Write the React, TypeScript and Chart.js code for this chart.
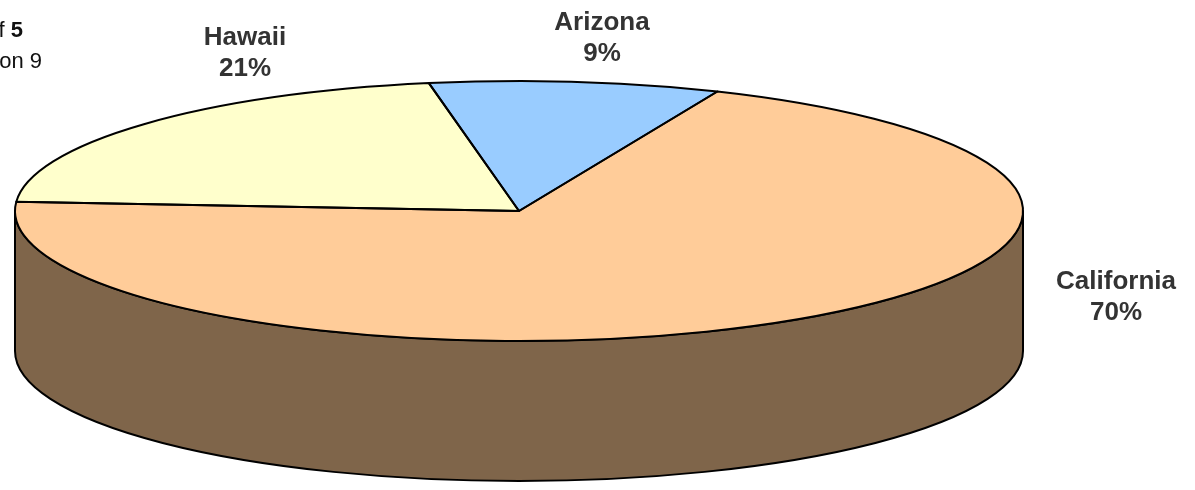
import React, { useEffect, useRef } from "react";
import { Chart, PieController, ArcElement } from "chart.js";

Chart.register(PieController, ArcElement);

// ---- data ----
const categories = ["Arizona", "California", "Hawaii"];
const values = [9.3, 69.7, 21.0];
const topColors = ["#99CCFF", "#FFCC99", "#FFFFCC"];
const sideColors = ["#4D6680", "#7F654A", "#80806A"];

const W = 1195;
const H = 490;

const pie3dPlugin = {
  id: "pie3d",
  beforeDatasetsDraw(chart: any, _args: any, opts: any) {
    const meta = chart.getDatasetMeta(0);
    const ctx = chart.ctx as CanvasRenderingContext2D;
    const { cx, cy, rx, ry, depth } = opts;
    // side walls (front half only: screen angles 0..PI)
    ctx.save();
    ctx.lineWidth = opts.lineWidth;
    ctx.strokeStyle = opts.lineColor;
    ctx.lineJoin = "round";
    meta.data.forEach((el: any, i: number) => {
      const s = el.startAngle;
      const e = el.endAngle;
      for (let k = -2; k <= 2; k++) {
        const lo = Math.max(s, k * 2 * Math.PI);
        const hi = Math.min(e, k * 2 * Math.PI + Math.PI);
        if (hi - lo <= 1e-6) continue;
        ctx.beginPath();
        ctx.ellipse(cx, cy, rx, ry, 0, lo, hi, false);
        ctx.lineTo(cx + rx * Math.cos(hi), cy + depth + ry * Math.sin(hi));
        ctx.ellipse(cx, cy + depth, rx, ry, 0, hi, lo, true);
        ctx.closePath();
        ctx.fillStyle = sideColors[i % sideColors.length];
        ctx.fill();
        ctx.stroke();
      }
    });
    ctx.restore();
    // transform circle -> ellipse for the library's own arc drawing
    const el0 = meta.data[0];
    const R = el0.outerRadius;
    ctx.save();
    ctx.translate(cx, cy);
    ctx.scale(rx / R, ry / R);
    ctx.translate(-el0.x, -el0.y);
  },
  afterDatasetsDraw(chart: any, _args: any, opts: any) {
    const ctx = chart.ctx as CanvasRenderingContext2D;
    ctx.restore();
    const meta = chart.getDatasetMeta(0);
    const { cx, cy, rx, ry } = opts;
    ctx.save();
    ctx.lineWidth = opts.lineWidth;
    ctx.strokeStyle = opts.lineColor;
    ctx.lineJoin = "round";
    meta.data.forEach((el: any) => {
      ctx.beginPath();
      ctx.moveTo(cx, cy);
      ctx.lineTo(cx + rx * Math.cos(el.startAngle), cy + ry * Math.sin(el.startAngle));
      ctx.ellipse(cx, cy, rx, ry, 0, el.startAngle, el.endAngle, false);
      ctx.closePath();
      ctx.stroke();
    });
    ctx.restore();
  },
  afterDraw(chart: any, _args: any, opts: any) {
    const ctx = chart.ctx as CanvasRenderingContext2D;
    const data = chart.data.datasets[0].data as number[];
    const total = data.reduce((a, b) => a + b, 0);
    ctx.save();
    ctx.font = opts.labelFont;
    ctx.fillStyle = opts.labelColor;
    ctx.textAlign = "center";
    ctx.textBaseline = "middle";
    chart.data.labels.forEach((lab: string, i: number) => {
      const [x, y] = opts.labelAnchors[i];
      const pct = Math.round((data[i] / total) * 100) + "%";
      ctx.fillText(lab, x, y - opts.lineGap / 2);
      ctx.fillText(pct, x, y + opts.lineGap / 2);
    });
    ctx.restore();
  },
};

export default function App() {
  const ref = useRef<HTMLCanvasElement | null>(null);
  useEffect(() => {
    document.body.style.margin = "0";
    if (!ref.current) return;
    const chart = new Chart(ref.current, {
      type: "pie",
      data: {
        labels: categories,
        datasets: [
          {
            data: values,
            backgroundColor: topColors,
            borderWidth: 0,
          },
        ],
      },
      options: {
        responsive: false,
        animation: false,
        rotation: -10.3,
        events: [],
        plugins: {
          legend: { display: false },
          tooltip: { enabled: false },
          pie3d: {
            cx: 519,
            cy: 211,
            rx: 504,
            ry: 130,
            depth: 140,
            lineWidth: 2,
            lineColor: "#000000",
            labelFont: "bold 26px 'Liberation Sans', Arial, sans-serif",
            labelColor: "#333333",
            lineGap: 31,
            labelAnchors: [
              [602, 38],
              [1116, 297],
              [245, 53],
            ],
          },
        } as any,
      },
      plugins: [pie3dPlugin],
    });
    return () => chart.destroy();
  }, []);

  const noteStyle: React.CSSProperties = {
    position: "absolute",
    width: 300,
    textAlign: "right",
    fontFamily: "'Liberation Sans', Arial, sans-serif",
    fontSize: 22,
    lineHeight: "24px",
    color: "#111111",
    whiteSpace: "nowrap",
  };

  return (
    <div style={{ position: "relative", width: W, height: H, overflow: "hidden", background: "#ffffff" }}>
      <canvas ref={ref} width={W} height={H} style={{ display: "block" }} />
      <div style={{ ...noteStyle, top: 18, left: -277 }}>
        Page 1 of <b>5</b>
      </div>
      <div style={{ ...noteStyle, top: 49, left: -258 }}>Question 9</div>
    </div>
  );
}
